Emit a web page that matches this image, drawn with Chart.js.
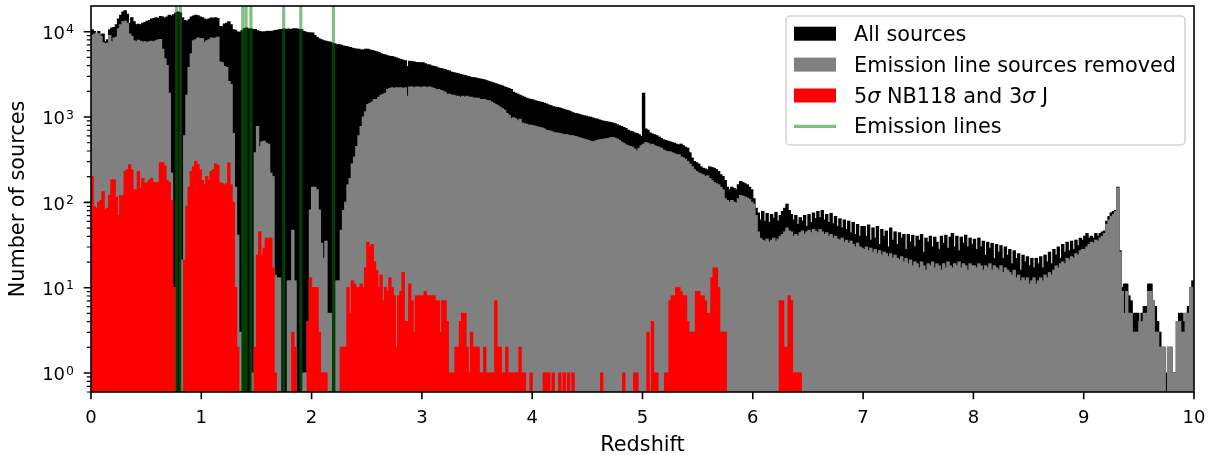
<!DOCTYPE html>
<html>
<head>
<meta charset="utf-8">
<script src="https://cdn.jsdelivr.net/npm/chart.js@4"></script>
<style>
  html, body { margin: 0; padding: 0; background: #fff; }
  canvas { display: block; }
</style>
</head>
<body>
<canvas id="chart" width="1219" height="455"></canvas>
<script>
// histogram bins: 0.02 wide, starting at z = 0
const binStart = 0;
const binWidth = 0.02;

const allSources = [
  10500,10000,9500,10000,9100,9400,7600,8000,10500,11000, 11200,12000,14000,15500,17000,17500,16000,12500,14500,13000,
  12000,12200,12000,12500,12800,13200,13500,14000,14200,14500, 14200,15000,14800,14300,14800,15500,15200,15800,16500,17000,
  16500,14500,13500,13200,13800,14800,15200,15500,15300,14800,
  14500,14000,13800,14000,14400,14300,14500,14200,11500,11400, 12300,12500,13000,12000,10500,10400,9900,9800,10200,10800,
  11000,10700,10800,10500,10600,10200,10000,9900,9900,10000, 10100,10000,10100,10300,10400,10500,10600,10700,10600,10700,
  10600,10700,10800,10700,10600,10500,10000,9800,9700,9600,
  9600,9000,8500,8200,8000,7800,7700,7600,7500,7300, 7200,7000,7000,6900,6800,6700,6600,6500,6400,6300,
  6200,6200,6100,6100,6200,6200,6100,6000,5900,5800, 5700,5500,5400,5300,5200,5100,5100,5000,4900,4800,
  4700,4600,4550,3900,4500,4450,4400,4350,4300,4300,
  4300,4200,4100,4050,3950,3900,3850,3750,3700,3650, 3600,3500,3450,3350,3300,3250,3200,3150,3100,3050,
  3000,2950,2900,2880,2850,2800,2780,2750,2700,2650, 2600,2550,2500,2450,2400,2350,2300,2250,2200,2150,
  2100,1950,1900,1850,1800,1750,1700,1650,1620,1600,
  1580,1550,1520,1500,1480,1450,1420,1380,1350,1320, 1300,1290,1270,1250,1220,1200,1180,1150,1120,1100,
  1090,1070,1050,1030,1020,1000,990,970,950,940, 920,900,890,880,870,860,850,830,810,790,
  770,750,730,700,680,670,650,640,620,590,
  1900,720,700,650,630,620,600,580,560,540, 530,520,510,500,490,480,470,480,460,440,
  430,380,330,300,290,280,260,250,245,240, 260,255,250,240,230,210,200,180,150,140,
  150,145,140,160,175,170,165,160,150,140,
  110,85,75,62,78,60,74,58,72,65, 76,60,70,78,85,95,80,72,62,70,
  55,66,60,70,52,72,58,75,64,78, 66,80,62,72,58,74,56,68,52,64,
  50,62,48,60,44,58,42,55,40,52,
  52,40,54,36,50,38,52,32,48,40, 46,30,50,36,45,32,44,38,42,28,
  42,34,41,30,40,36,42,26,38,34, 40,30,39,34,28,40,33,41,29,39,
  43,30,40,27,39,33,41,30,38,32,
  37,28,38,30,35,24,34,29,33,22, 32,26,31,22,30,24,28,19,27,22,
  25,16,24,20,23,18,22,17,22,19, 23,17,24,20,26,19,28,24,30,22,
  32,26,34,27,35,28,36,31,38,36,
  40,43,38,40,38,43,40,43,45,46, 60,68,75,78,80,150,27,10,11,11,
  8,7,5,5,5,4,5,6,6,11, 11,7,6,4,3,2,2,1,2,2,
  1,1,4,5,5,4,5,6,10,12
];

const lineRemoved = [
  9000,9300,9600,9400,8800,7400,7200,7300,9000,7600, 8400,8600,10800,12000,13000,13200,12500,9400,8800,7800,
  7600,7900,7700,7500,7600,7400,7600,7700,7600,7800, 8000,8100,6200,4800,4000,1900,220,10,0,0,
  0,21,600,1800,3800,5500,7800,8000,8400,8300,
  8300,7400,7800,8000,8400,8300,8400,8600,4400,4300, 3900,3800,2600,2400,640,150,41,3,0,0,
  0,0,0,1,380,770,450,510,520,490, 480,220,200,14,13,13,0,0,0,12,
  12,47,12,0,0,0,1,1,4,81,
  150,150,140,81,33,22,35,5,5,0, 0,12,12,47,80,100,160,190,280,340,
  450,600,770,1000,1150,1400,1450,1500,1600,1600, 1700,1800,1850,1900,2100,2150,2200,2150,2200,2180,
  2200,2150,2200,1750,2250,2250,2200,2250,2250,2200,
  2250,2250,2200,2250,2200,2150,2100,2100,2050,2000, 1950,1850,1850,1800,1800,1750,1750,1700,1750,1700,
  1750,1700,1700,1650,1650,1650,1600,1600,1600,1550, 1550,1500,1450,1400,1350,1300,1250,1200,1100,1050,
  950,980,950,900,940,850,830,820,800,800,
  790,780,760,750,740,720,700,690,680,660, 650,650,640,630,620,620,610,600,600,590,
  580,570,560,550,540,530,520,510,520,530, 540,545,550,555,560,570,575,565,550,530,
  510,490,470,460,450,440,420,400,430,460,
  480,500,490,470,480,460,450,440,430,410, 400,390,390,380,370,360,360,340,330,320,
  300,280,260,240,230,220,215,210,200,205, 190,180,170,165,160,150,140,110,105,100,
  105,100,98,110,120,118,115,112,108,100,
  95,70,45,38,36,35,37,34,36,38, 35,37,40,42,45,50,46,45,40,42,
  40,44,46,42,45,47,44,48,46,44, 48,45,42,44,40,42,38,40,37,36,
  38,34,36,33,35,32,30,33,30,29,
  28,30,27,29,26,28,25,27,24,26, 25,23,25,22,24,22,21,23,20,22,
  19,21,18,20,19,17,20,18,16,19, 18,20,17,19,18,16,19,17,20,18,
  17,19,18,20,17,19,18,16,19,18,
  18,17,19,18,16,18,17,19,16,18, 17,16,18,15,17,16,15,14,16,13,
  14,12,13,12,13,11,12,13,11,12, 13,12,14,13,15,14,16,18,17,19,
  20,19,22,21,23,22,25,24,27,28,
  28,30,32,34,33,36,35,38,40,43, 55,62,68,72,78,147,26,9,5,9,
  5,5,3,3,3,4,4,5,5,9, 9,7,3,3,2,2,2,0,2,2,
  1,1,4,4,3,3,5,5,10,10
];

const nb118Detected = [
  200,88,85,100,105,133,80,85,120,183, 183,115,70,120,120,230,240,275,240,140,
  140,230,145,190,165,170,180,190,170,170, 170,290,290,265,180,170,105,10,0,0,
  0,0,21,90,150,230,260,300,275,240,
  180,160,200,180,230,240,280,270,170,165, 160,165,290,160,100,10,2,0,0,0,
  0,0,0,0,2,24,45,24,29,38, 38,38,17,1,0,0,0,0,0,0,
  0,3,2,0,0,0,0,0,4,13,
  10,10,10,3,1,1,1,0,0,0, 0,0,0,2,2,2,10,5,12,11,
  10,10,11,10,17,34,30,32,20,16, 10,14,7,10,9,13,10,8,2,8,
  9,15,4,4,11,7,3,8,8,8,
  8,9,8,8,8,8,7,7,3,7, 7,4,1,1,1,2,2,4,5,5,
  2,1,3,2,2,2,1,1,2,1, 1,1,1,7,2,2,1,1,2,1,
  1,1,1,1,2,1,1,0,0,1,
  0,0,0,0,0,1,1,1,0,1, 0,0,1,0,1,0,1,0,1,0,
  0,0,0,0,0,0,0,0,0,0, 0,1,0,0,0,0,0,0,0,0,
  0,1,0,0,0,0,1,1,0,0,
  0,0,3,0,4,1,1,0,0,0, 1,1,7,8,8,10,10,9,8,8,
  4,3,3,3,9,9,8,8,7,5, 5,13,17,17,10,3,3,3,0,0,
  0,0,0,0,0,0,0,0,0,0,
  0,0,0,0,0,0,0,0,0,0, 0,0,7,7,2,2,8,7,1,1,
  1,1,0,0,0,0,0,0,0,0, 0,0,0,0,0,0,0,0,0,0,
  0,0,0,0,0,0,0,0,0,0,
  0,0,0,0,0,0,0,0,0,0, 0,0,0,0,0,0,0,0,0,0,
  0,0,0,0,0,0,0,0,0,0, 0,0,0,0,0,0,0,0,0,0,
  0,0,0,0,0,0,0,0,0,0,
  0,0,0,0,0,0,0,0,0,0, 0,0,0,0,0,0,0,0,0,0,
  0,0,0,0,0,0,0,0,0,0, 0,0,0,0,0,0,0,0,0,0,
  0,0,0,0,0,0,0,0,0,0,
  0,0,0,0,0,0,0,0,0,0, 0,0,0,0,0,0,0,0,0,0,
  0,0,0,0,0,0,0,0,0,0, 0,0,0,0,0,0,0,0,0,0,
  0,0,0,0,0,0,0,0,0,0
];

// redshifts of the emission lines falling in NB118
const emissionLines = [0.776, 0.812, 1.376, 1.406, 1.45, 1.747, 1.902, 2.198];

const xTicks = [0, 1, 2, 3, 4, 5, 6, 7, 8, 9, 10];
const yTicks = [1, 10, 100, 1000, 10000];
const yTickExponents = ['0', '1', '2', '3', '4'];
const yMinorTicks = [0.6, 0.7, 0.8, 0.9, 2, 3, 4, 5, 6, 7, 8, 9, 20, 30, 40, 50, 60, 70, 80, 90,
  200, 300, 400, 500, 600, 700, 800, 900, 2000, 3000, 4000, 5000, 6000, 7000, 8000, 9000];

const Y_MIN = 0.6;
const Y_MAX = 20000;
const FONT = 'DejaVu Sans';
const LINE_GREEN = 'rgba(0,128,0,0.5)';

function toPoints(values) {
  return values.map((v, i) => ({ x: binStart + (i + 0.5) * binWidth, y: v > 0 ? v : null }));
}

const linePoints = [];
emissionLines.forEach(z => {
  linePoints.push({ x: z, y: Y_MIN }, { x: z, y: Y_MAX }, { x: z, y: null });
});

function barSet(label, values, color, order) {
  return {
    label: label,
    data: toPoints(values),
    backgroundColor: color,
    borderWidth: 0,
    grouped: false,
    barPercentage: 1,
    categoryPercentage: 1,
    inflateAmount: 0.6,
    order: order
  };
}

const legendItems = [
  { kind: 'box', color: '#000000', parts: [['All sources', false]] },
  { kind: 'box', color: '#808080', parts: [['Emission line sources removed', false]] },
  { kind: 'box', color: '#ff0000', parts: [['5', false], ['σ', true], [' NB118 and 3', false], ['σ', true], [' J', false]] },
  { kind: 'line', color: LINE_GREEN, parts: [['Emission lines', false]] }
];

const framePlugin = {
  id: 'framePlugin',
  afterDatasetsDraw(chart) {
    const { ctx, chartArea: a, scales: { x, y } } = chart;
    ctx.save();
    ctx.strokeStyle = '#000';
    ctx.lineWidth = 1.6;
    ctx.strokeRect(a.left, a.top, a.right - a.left, a.bottom - a.top);

    ctx.beginPath();
    xTicks.forEach(v => {
      const px = x.getPixelForValue(v);
      ctx.moveTo(px, a.bottom);
      ctx.lineTo(px, a.bottom + 7.3);
    });
    yTicks.forEach(v => {
      const py = y.getPixelForValue(v);
      ctx.moveTo(a.left, py);
      ctx.lineTo(a.left - 7.3, py);
    });
    ctx.stroke();

    ctx.beginPath();
    ctx.lineWidth = 1.2;
    yMinorTicks.forEach(v => {
      const py = y.getPixelForValue(v);
      ctx.moveTo(a.left, py);
      ctx.lineTo(a.left - 4.2, py);
    });
    ctx.stroke();

    ctx.fillStyle = '#000';
    ctx.textBaseline = 'alphabetic';
    ctx.textAlign = 'center';
    ctx.font = '18px "' + FONT + '"';
    xTicks.forEach(v => {
      ctx.fillText(String(v), x.getPixelForValue(v), a.bottom + 31);
    });

    ctx.textAlign = 'left';
    yTicks.forEach((v, i) => {
      const py = y.getPixelForValue(v);
      ctx.font = '18px "' + FONT + '"';
      const wBase = ctx.measureText('10').width;
      ctx.font = '12.5px "' + FONT + '"';
      const wExp = ctx.measureText(yTickExponents[i]).width;
      const x0 = 74 - wExp - wBase - 1;
      const base = py + 7.3;
      ctx.font = '18px "' + FONT + '"';
      ctx.fillText('10', x0, base);
      ctx.font = '12.5px "' + FONT + '"';
      ctx.fillText(yTickExponents[i], x0 + wBase + 1, base - 5.8);
    });
    ctx.restore();
  },
  afterDraw(chart) {
    const ctx = chart.ctx;
    const bx = 786, by = 16, bw = 399, bh = 129, r = 4;
    ctx.save();
    ctx.beginPath();
    ctx.roundRect(bx, by, bw, bh, r);
    ctx.fillStyle = 'rgba(255,255,255,0.8)';
    ctx.fill();
    ctx.strokeStyle = '#d3d3d3';
    ctx.lineWidth = 1.5;
    ctx.stroke();

    legendItems.forEach((item, i) => {
      const base = 40.7 + i * 30.9;
      if (item.kind === 'box') {
        ctx.fillStyle = item.color;
        ctx.fillRect(794, base - 14, 42, 14);
      } else {
        ctx.strokeStyle = item.color;
        ctx.lineWidth = 3.1;
        ctx.beginPath();
        ctx.moveTo(794, base - 7);
        ctx.lineTo(836, base - 7);
        ctx.stroke();
      }
      let tx = 854;
      ctx.fillStyle = '#000';
      ctx.textAlign = 'left';
      ctx.textBaseline = 'alphabetic';
      item.parts.forEach(([t, italic]) => {
        ctx.font = (italic ? 'oblique ' : '') + '20.8px "' + FONT + '"';
        ctx.fillText(t, tx, base);
        tx += ctx.measureText(t).width;
      });
    });
    ctx.restore();
  }
};

Chart.defaults.font.family = FONT;
Chart.defaults.color = '#000';

new Chart(document.getElementById('chart').getContext('2d'), {
  type: 'bar',
  data: {
    datasets: [
      barSet('All sources', allSources, '#000000', 3),
      barSet('Emission line sources removed', lineRemoved, '#808080', 2),
      barSet('5σ NB118 and 3σ J', nb118Detected, '#ff0000', 1),
      {
        type: 'line',
        label: 'Emission lines',
        data: linePoints,
        borderColor: LINE_GREEN,
        borderWidth: 3.1,
        pointRadius: 0,
        spanGaps: false,
        fill: false,
        order: 0
      }
    ]
  },
  options: {
    responsive: false,
    animation: false,
    devicePixelRatio: 1,
    layout: { padding: { left: 0, right: 25, top: 6, bottom: 0 } },
    plugins: { legend: { display: false }, tooltip: { enabled: false } },
    scales: {
      x: {
        type: 'linear',
        min: 0,
        max: 10,
        offset: false,
        grid: { display: false, offset: false },
        border: { display: false },
        ticks: { display: false },
        title: { display: true, text: 'Redshift', color: '#000', font: { family: FONT, size: 20.8 }, padding: { top: 0, bottom: -3 } },
        afterFit: s => { s.height = 63; }
      },
      y: {
        type: 'logarithmic',
        min: Y_MIN,
        max: Y_MAX,
        grid: { display: false },
        border: { display: false },
        ticks: { display: false },
        title: { display: true, text: 'Number of sources', color: '#000', font: { family: FONT, size: 20.8 }, padding: { top: 6, bottom: 0 } },
        afterFit: s => { s.width = 91; }
      }
    }
  },
  plugins: [framePlugin]
});
</script>
</body>
</html>
